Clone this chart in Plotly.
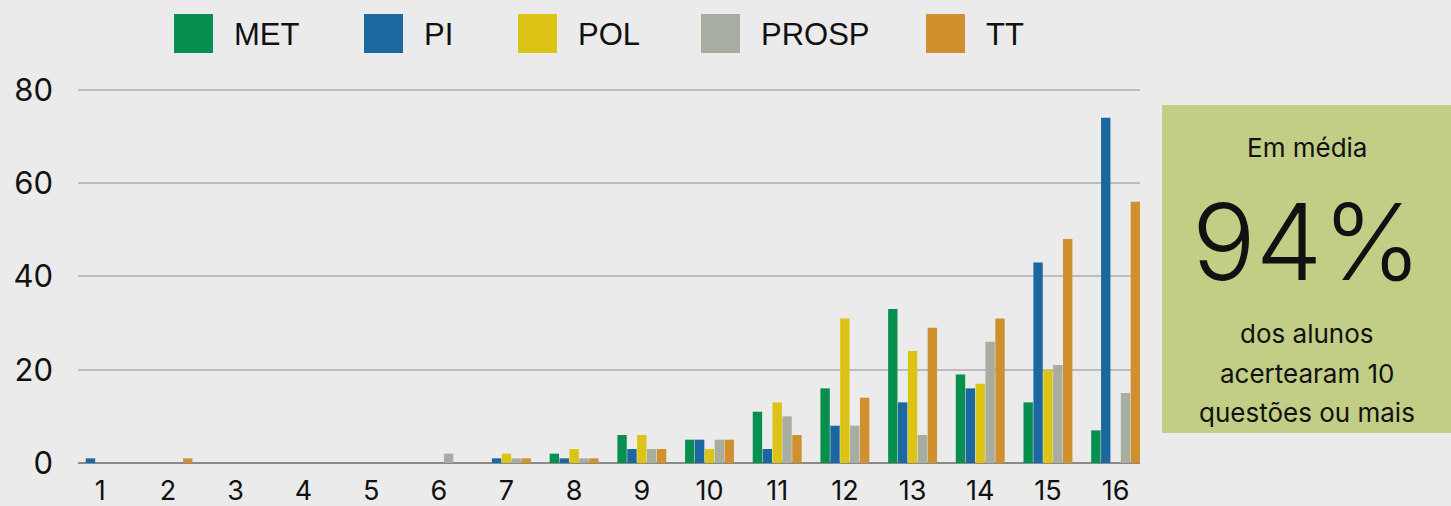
import plotly.graph_objects as go

categories = list(range(1, 17))
series_names = ["MET", "PI", "POL", "PROSP", "TT"]
met =   [0, 0, 0, 0, 0, 0, 0, 2, 6, 5, 11, 16, 33, 19, 13, 7]
pi =    [1, 0, 0, 0, 0, 0, 1, 1, 3, 5, 3, 8, 13, 16, 43, 74]
pol =   [0, 0, 0, 0, 0, 0, 2, 3, 6, 3, 13, 31, 24, 17, 20, 0]
prosp = [0, 0, 0, 0, 0, 2, 1, 1, 3, 5, 10, 8, 6, 26, 21, 15]
tt =    [0, 1, 0, 0, 0, 0, 1, 1, 3, 5, 6, 14, 29, 31, 48, 56]
colors = ["#078f4f", "#1c67a0", "#dcc416", "#a8ada1", "#d0902d"]
y_ticks = [0, 20, 40, 60, 80]

box_title = "Em média"
box_value = "94%"
box_lines = ["dos alunos", "acertearam 10", "questões ou mais"]

W, H = 1451, 506
L, R, T, B = 78, 1140, 88, 463

fig = go.Figure()
for name, vals, col in zip(series_names, [met, pi, pol, prosp, tt], colors):
    fig.add_trace(go.Bar(x=categories, y=vals, name=name, marker_color=col,
                         marker_line_width=0, showlegend=False))

fig.update_layout(
    width=W, height=H,
    paper_bgcolor="#ebebeb", plot_bgcolor="#ebebeb",
    margin=dict(l=L, r=W - R, t=T, b=H - B, pad=0),
    barmode="group", bargap=0.27, bargroupgap=0.05,
    font=dict(family="Inter", color="#111111"),
    xaxis=dict(range=[0.67, 16.36], tickmode="array", tickvals=categories,
               ticktext=[str(c) for c in categories], showgrid=False, zeroline=False,
               showline=False, automargin=False,
               tickfont=dict(size=27, family="Inter"), ticklabelstandoff=9),
    yaxis=dict(range=[0, 80.4], tickmode="array", tickvals=y_ticks,
               ticktext=[str(t) for t in y_ticks], showgrid=True, gridcolor="#bcbcbc",
               gridwidth=2, zeroline=True, zerolinecolor="#8a8a8a", zerolinewidth=2,
               showline=False, automargin=False,
               tickfont=dict(size=31, family="Inter"), ticklabelstandoff=24),
)

def px(x):
    return (x - L) / (R - L)
def py(y):
    return (B - y) / (B - T)

# custom legend
sw_x = [174, 364, 518, 701, 926]
for name, col, x0 in zip(series_names, colors, sw_x):
    fig.add_shape(type="rect", xref="paper", yref="paper",
                  x0=px(x0), x1=px(x0 + 39), y0=py(53), y1=py(14),
                  fillcolor=col, line_width=0, layer="above")
    fig.add_annotation(xref="paper", yref="paper", x=px(x0 + 58), y=py(34),
                       text=name, showarrow=False, xanchor="left", yanchor="middle",
                       font=dict(family="Liberation Sans", size=31, color="#111111"))

# side box
fig.add_shape(type="rect", xref="paper", yref="paper", x0=px(1162), x1=px(1455),
              y0=py(433), y1=py(105), fillcolor="#c2cd85", line_width=0)
cx = px(1307)
fig.add_annotation(xref="paper", yref="paper", x=cx, y=py(147), text=box_title,
                   showarrow=False, xanchor="center", yanchor="middle",
                   font=dict(family="Inter", size=26, color="#111111"))
fig.add_annotation(xref="paper", yref="paper", x=cx, y=py(242), text=box_value,
                   showarrow=False, xanchor="center", yanchor="middle",
                   font=dict(family="Inter", size=106, color="#111111", weight=300))
for txt, yy in zip(box_lines, [333, 373, 412]):
    fig.add_annotation(xref="paper", yref="paper", x=cx, y=py(yy), text=txt,
                       showarrow=False, xanchor="center", yanchor="middle",
                       font=dict(family="Inter", size=26, color="#111111"))

fig.write_html("out.html", config={"displayModeBar": False},
               post_script="document.body.style.margin='0px';")
